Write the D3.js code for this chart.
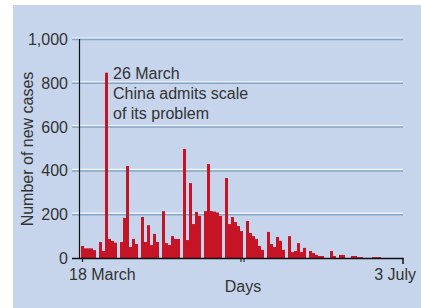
<!DOCTYPE html>
<html>
<head>
<meta charset="utf-8">
<script src="https://cdn.jsdelivr.net/npm/d3@7"></script>
<style>
  body { margin: 0; background: #fff; }
  svg { display: block; }
  text { font-family: "Liberation Sans", Arial, sans-serif; fill: #333; }
</style>
</head>
<body>
<div id="chart"></div>
<script>
// new cases per day, 18 March -> 3 July
var startDay = new Date(2003, 2, 18);
var endDay = new Date(2003, 6, 3);
var cases = [
  55, 44, 44, 44, 36, 0, 73, 32, 846, 87,
  78, 70, 0, 73, 183, 420, 50, 87, 64, 0,
  187, 73, 150, 59, 110, 73, 0, 214, 68, 59,
  100, 87, 87, 0, 498, 82, 342, 155, 210, 192,
  0, 214, 429, 214, 212, 208, 192, 0, 365, 155,
  187, 164, 146, 123, 0, 169, 114, 100, 87, 55,
  37, 0, 119, 64, 50, 96, 78, 37, 0, 100,
  27, 32, 68, 27, 46, 0, 32, 23, 14, 9,
  9, 0, 0, 32, 9, 0, 14, 14, 0, 0,
  9, 9, 4, 4, 0, 0, 0, 4, 4, 4,
  0, 0, 0, 0, 0, 0, 0, 0
];
var yTicks = [0, 200, 400, 600, 800, 1000];
var xTickLabels = ["18 March", "3 July"];
var noteLines = ["26 March", "China admits scale", "of its problem"];

var svgWidth = 421, svgHeight = 308;

var svg = d3.select("#chart").append("svg")
    .attr("width", svgWidth)
    .attr("height", svgHeight);

// blue panel
svg.append("rect")
    .attr("x", 13).attr("y", 5)
    .attr("width", svgWidth - 13).attr("height", svgHeight - 5)
    .attr("fill", "#c6d5ec");

var days = d3.timeDay.range(startDay, d3.timeDay.offset(endDay, 1));

var x = d3.scaleBand()
    .domain(days)
    .range([81, 405])
    .paddingInner(0);

var y = d3.scaleLinear()
    .domain([0, 1000])
    .range([258, 39]);

var left = 72, right = x(days[days.length - 1]) + 1;

// gridlines
var grid = svg.append("g");
yTicks.filter(d => d > 0).forEach(function(t) {
    grid.append("line")
        .attr("x1", left).attr("x2", right)
        .attr("y1", y(t) - 1).attr("y2", y(t) - 1)
        .attr("stroke", "#f2f6fb").attr("stroke-width", 1.2);
    grid.append("line")
        .attr("x1", left).attr("x2", right)
        .attr("y1", y(t) + 0.5).attr("y2", y(t) + 0.5)
        .attr("stroke", "#86a6c6").attr("stroke-width", 1.5);
});

// y labels
svg.append("g").selectAll("text")
    .data(yTicks)
    .enter().append("text")
    .attr("x", 68)
    .attr("y", d => y(d) + 6)
    .attr("text-anchor", "end")
    .attr("font-size", 16)
    .text(d => d3.format(",")(d));

// bars
svg.append("g").selectAll("rect")
    .data(cases)
    .enter().append("rect")
    .attr("x", (d, i) => x(days[i]))
    .attr("width", x.bandwidth())
    .attr("y", d => y(d))
    .attr("height", d => y(0) - y(d))
    .attr("fill", "#c41425");

// axes
svg.append("line")
    .attr("x1", 79.5).attr("x2", 79.5)
    .attr("y1", y(1000)).attr("y2", y(0))
    .attr("stroke", "#111").attr("stroke-width", 1.2);
svg.append("line")
    .attr("x1", left).attr("x2", right + 0.5)
    .attr("y1", y(0) + 0.5).attr("y2", y(0) + 0.5)
    .attr("stroke", "#111").attr("stroke-width", 1.5);

var first = x(days[0]) + 1.5, last = right;
svg.append("line")
    .attr("x1", first).attr("x2", first)
    .attr("y1", y(0)).attr("y2", y(0) + 4)
    .attr("stroke", "#111").attr("stroke-width", 1.2);
svg.append("line")
    .attr("x1", last).attr("x2", last)
    .attr("y1", y(0)).attr("y2", y(0) + 6)
    .attr("stroke", "#111").attr("stroke-width", 1.5);
// mid marks
[53, 54].forEach(function(i) {
    var mx = x(days[i]) + 1;
    svg.append("line")
        .attr("x1", mx).attr("x2", mx)
        .attr("y1", y(0)).attr("y2", y(0) + 4)
        .attr("stroke", "#111").attr("stroke-width", 1);
});

svg.append("text")
    .attr("x", 69).attr("y", 280)
    .attr("font-size", 16)
    .text(xTickLabels[0]);
svg.append("text")
    .attr("x", 416).attr("y", 280)
    .attr("text-anchor", "end")
    .attr("font-size", 16)
    .text(xTickLabels[1]);

svg.append("text")
    .attr("x", 243).attr("y", 292)
    .attr("text-anchor", "middle")
    .attr("font-size", 16)
    .text("Days");

svg.append("text")
    .attr("transform", "translate(33,149) rotate(-90)")
    .attr("text-anchor", "middle")
    .attr("font-size", 16)
    .text("Number of new cases");

// annotation
svg.append("g").selectAll("text")
    .data(noteLines)
    .enter().append("text")
    .attr("x", 113)
    .attr("y", (d, i) => 79 + i * 20)
    .attr("font-size", 16)
    .text(d => d);
</script>
</body>
</html>
